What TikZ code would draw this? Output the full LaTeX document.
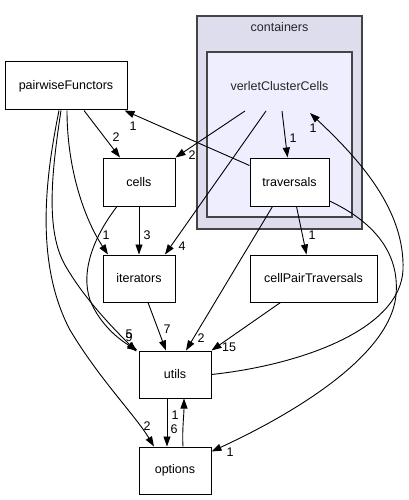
\documentclass[tikz,border=0pt]{standalone}
\usepackage{fontspec}
\setmainfont{Liberation Sans}
\usetikzlibrary{arrows.meta,calc}
\definecolor{clusterfill}{HTML}{DDDDEE}
\definecolor{innerfill}{HTML}{EEEEFF}
\definecolor{clusterline}{HTML}{444444}
\begin{document}
\begin{tikzpicture}[x=1pt,y=-1pt,
  font=\fontsize{12.5}{14}\selectfont,
  dirbox/.style={draw=black,line width=1pt,fill=white,inner sep=0pt,minimum height=47pt},
  lbl/.style={inner sep=0pt,font=\fontsize{12.5}{14}\selectfont},
  edge/.style={draw=black,line width=0.9pt,-{Triangle[length=10pt,width=7pt]}}]
\useasboundingbox (0,0) rectangle (409,500);
% clusters
\draw[clusterline,fill=clusterfill,line width=1.2pt] (197,16) rectangle (362,229);
\node[lbl,text=black!85] (containers) at (279.5,27) {containers};
\draw[clusterline,fill=innerfill,line width=1.2pt] (207,52) rectangle (352,217);
\node[lbl,text=black!85] (vcc) at (279.5,86) {verletClusterCells};
\coordinate (vccA) at (245,111);
\coordinate (vccB) at (266,111);
\coordinate (vccC) at (282,111);
\coordinate (vccIn) at (310,113);
% nodes
\node[dirbox,minimum width=122pt,minimum height=48pt] (pf) at (66,86) {pairwiseFunctors};
\node[dirbox,minimum width=72pt,minimum height=48pt] (cells) at (139,182) {cells};
\node[dirbox,minimum width=79pt,minimum height=48pt] (trav) at (289.5,182) {traversals};
\node[dirbox,minimum width=72pt] (it) at (139,278.5) {iterators};
\node[dirbox,minimum width=127pt] (cpt) at (313.5,278.5) {cellPairTraversals};
\node[dirbox,minimum width=72pt] (utils) at (175,374.5) {utils};
\node[dirbox,minimum width=72pt] (opt) at (175,470.5) {options};
% edges
\draw[edge] ($(pf.south)+(18,0)$) -- ($(cells.north)+(-19,0)$);
\node[lbl] (l1) at (116,137) {2};
\draw[edge] (vccA) -- (cells.north east);
\node[lbl] (l2) at (192,155) {2};
\draw[edge] (vccB) -- ($(it.north)+(26,0)$);
\node[lbl] (l3) at (182,246) {4};
\draw[edge] (vccC) -- ($(trav.north)+(-2,0)$);
\node[lbl] (l4) at (293,138) {1};
\draw[edge] ($(trav.north west)+(0,8)$) -- ($(pf.south east)+(-3,0)$);
\node[lbl] (l5) at (133,126) {1};
\draw[edge] (utils.east) .. controls (300,365) and (400,330) .. (403,270)
  .. controls (405,210) and (360,160) .. (vccIn);
\node[lbl] (l6) at (313,128) {1};
\draw[edge] ($(trav.south)+(-17,0)$) -- ($(utils.north)+(11,0)$);
\node[lbl] (l7) at (201,338) {2};
\draw[edge] ($(trav.south)+(7,0)$) -- ($(cpt.north)+(-7,0)$);
\node[lbl] (l8) at (312,235) {1};
\draw[edge] ($(trav.east)+(0,19)$) .. controls (370,220) and (400,250) .. (396,295)
  .. controls (390,360) and (280,420) .. ($(opt.north east)+(0,5)$);
\node[lbl] (l9) at (230,452) {1};
\draw[edge] (cells.south) -- (it.north);
\node[lbl] (l10) at (147,235) {3};
\draw[edge] ($(cells.south)+(-22,0)$) .. controls (95,235) and (80,270) .. (90,300)
  .. controls (100,325) and (120,340) .. ($(utils.north west)+(-1,0)$);
\node[lbl] (l11b) at (129,337) {9};
\draw[edge] ($(pf.south)+(1,0)$) .. controls (67,170) and (85,220) .. ($(it.north)+(-31,0)$);
\node[lbl] (l12) at (106,235) {1};
\draw[edge] ($(pf.south)+(-5,0)$) .. controls (52,170) and (45,230) .. (65,265)
  .. controls (85,300) and (115,330) .. ($(utils.north west)+(-2,1)$);
\node[lbl] (l11a) at (129,334) {5};
\draw[edge] ($(pf.south)+(-7,0)$) .. controls (47,170) and (33,260) .. (70,330)
  .. controls (100,380) and (135,415) .. ($(opt.north)+(-21,0)$);
\node[lbl] (l13) at (147,426) {2};
\draw[edge] ($(it.south)+(9,0)$) -- ($(utils.north)+(-9,0)$);
\node[lbl] (l14) at (167,329) {7};
\draw[edge] ($(cpt.south)+(-33,0)$) -- (utils.north east);
\node[lbl] (l15) at (229,347) {15};
\draw[edge] ($(utils.south)+(-8,0)$) -- ($(opt.north)+(-8,0)$);
\node[lbl] (l16) at (174,429) {6};
\draw[edge] ($(opt.north)+(8,0)$) .. controls (182,430) and (184,415) .. ($(utils.south)+(9,0)$);
\node[lbl] (l17) at (175,415) {1};
\end{tikzpicture}
\end{document}
